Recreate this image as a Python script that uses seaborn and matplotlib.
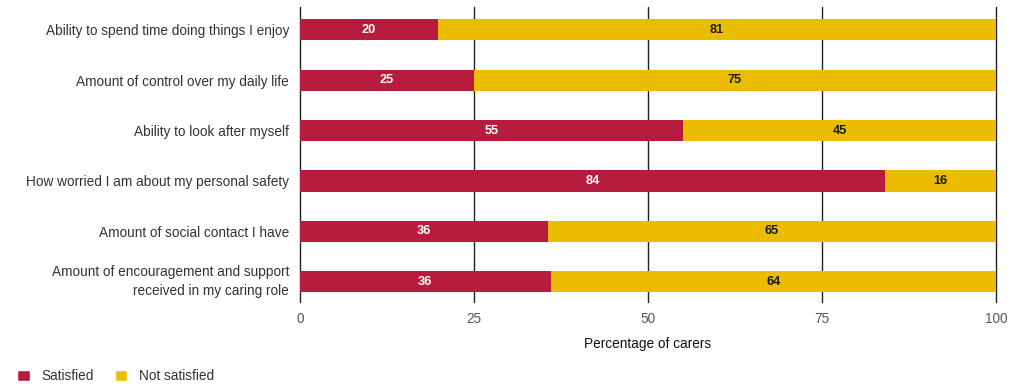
import numpy as np
import pandas as pd
import matplotlib
matplotlib.use("Agg")
import matplotlib.pyplot as plt
import matplotlib.transforms as mtransforms
from matplotlib.patches import Patch
import seaborn as sns

categories = [
    "Ability to spend time doing things I enjoy",
    "Amount of control over my daily life",
    "Ability to look after myself",
    "How worried I am about my personal safety",
    "Amount of social contact I have",
    "Amount of encouragement and support\nreceived in my caring role",
]
satisfied = [20, 25, 55, 84, 36, 36]
not_satisfied = [81, 75, 45, 16, 65, 64]
x_ticks = [0, 25, 50, 75, 100]

RED = "#B71C3E"
YELLOW = "#EBBC00"
TEXT = "#333333"

sns.set_theme(style="white")
plt.rcParams["font.family"] = ["Liberation Sans", "DejaVu Sans"]

sat = np.array(satisfied, dtype=float)
nsat = np.array(not_satisfied, dtype=float)
total = sat + nsat
sat_share = sat / total * 100
full = total / total * 100

df = pd.DataFrame({"category": categories, "sat_share": sat_share, "full": full})

fig = plt.figure(figsize=(10.27, 3.84), dpi=100)
ax = fig.add_axes([300 / 1027, 1 - 302 / 384, 696 / 1027, 295 / 384])

for x in x_ticks:
    ax.axvline(x, color="#222222", lw=1.0, zorder=0, clip_on=False)

sns.barplot(data=df, x="full", y="category", orient="h", color=YELLOW,
            width=0.42, saturation=1, linewidth=0, ax=ax, zorder=2)
sns.barplot(data=df, x="sat_share", y="category", orient="h", color=RED,
            width=0.42, saturation=1, linewidth=0, ax=ax, zorder=3)

for i in range(len(categories)):
    ax.text(sat_share[i] / 2, i, f"{satisfied[i]}", ha="center", va="center",
            color="white", fontsize=9.2, fontweight="bold", zorder=4)
    ax.text(sat_share[i] + (full[i] - sat_share[i]) / 2, i, f"{not_satisfied[i]}",
            ha="center", va="center", color="#1a1a1a", fontsize=9.2,
            fontweight="bold", zorder=4)

ax.set_xlim(0, 100)
ax.set_ylim(5.4, -0.45)
ax.set_xticks(x_ticks)
ax.set_xticklabels([str(t) for t in x_ticks], color="#555555", fontsize=9.8)
ax.tick_params(axis="x", length=0, pad=7)
ax.tick_params(axis="y", length=0, pad=8, labelsize=9.8, labelcolor=TEXT)
lift = mtransforms.ScaledTranslation(0, 4 / 100, fig.dpi_scale_trans)
for lbl in ax.get_yticklabels():
    lbl.set_linespacing(1.45)
    if "\n" in lbl.get_text():
        lbl.set_transform(lbl.get_transform() + lift)
ax.set_ylabel("")
ax.set_xlabel("Percentage of carers", fontsize=9.8, color="#111111", labelpad=8)
for s in ax.spines.values():
    s.set_visible(False)

handles = [Patch(facecolor=RED, label="Satisfied"),
           Patch(facecolor=YELLOW, label="Not satisfied")]
fig.legend(handles=handles, loc="lower left", bbox_to_anchor=(0.005, -0.03),
           ncol=2, frameon=False, fontsize=9.8, handlelength=0.9,
           handleheight=0.9, handletextpad=0.9, columnspacing=1.5,
           labelcolor=TEXT)

fig.savefig("out.png", dpi=100)
